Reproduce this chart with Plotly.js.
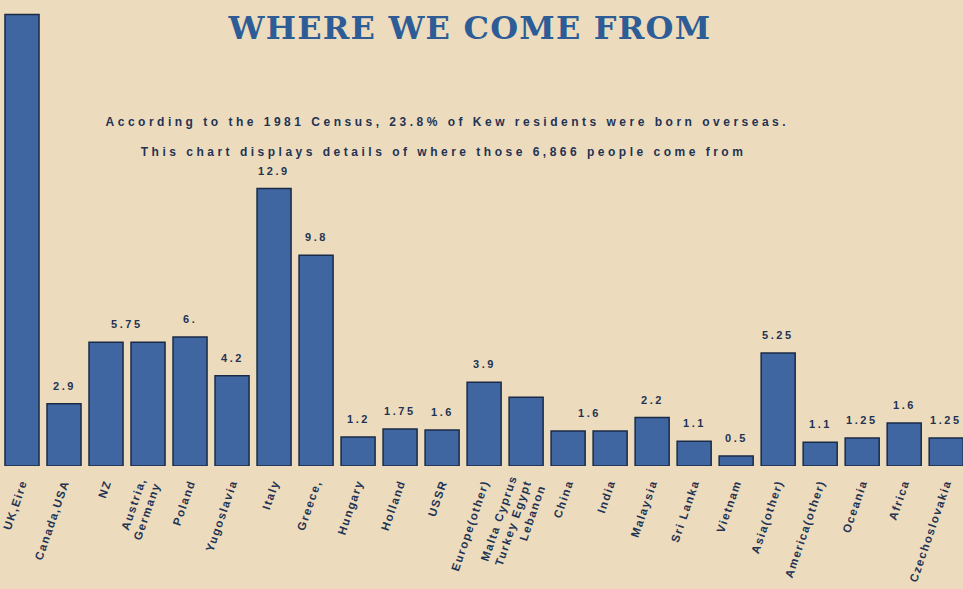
<!DOCTYPE html>
<html>
<head>
<meta charset="utf-8">
<script src="https://cdn.plot.ly/plotly-3.0.1.min.js"></script>
<style>
  html, body { margin: 0; padding: 0; background: #ecdcbd; }
  #chart { width: 963px; height: 589px; }
  .annotation-text { letter-spacing: 2.6px; }
  .annotation[data-index="0"] .annotation-text,
  .annotation[data-index="1"] .annotation-text { letter-spacing: 3.5px; }
  .xtick text { letter-spacing: 1.5px; }
  .gtitle { letter-spacing: 1.2px; }
</style>
</head>
<body>
<div id="chart"></div>
<script>
const categories = ["UK,Eire", "Canada,USA", "NZ", "Austria,<br>Germany", "Poland", "Yugoslavia", "Italy", "Greece,",
  "Hungary", "Holland", "USSR", "Europe(other)", "Malta Cyprus<br>Turkey Egypt<br>Lebanon", "China", "India",
  "Malaysia", "Sri Lanka", "Vietnam", "Asia(other)", "America(other)", "Oceania", "Africa", "Czechoslovakia"];
const values = [21.0, 2.9, 5.75, 5.75, 6.0, 4.2, 12.9, 9.8, 1.35, 1.72, 1.67, 3.9, 3.2, 1.63, 1.63,
  2.25, 1.15, 0.47, 5.25, 1.1, 1.3, 2.0, 1.3];
const valueLabels = ["21", "2.9", "5.75", "5.75", "6.", "4.2", "12.9", "9.8", "1.2", "1.75", "1.6", "3.9", "", "1.6", "1.6",
  "2.2", "1.1", "0.5", "5.25", "1.1", "1.25", "1.6", "1.25"];
const titleText = "WHERE WE COME FROM";
const subtitle1 = "According to the 1981 Census, 23.8% of Kew residents were born overseas.";
const subtitle2 = "This chart displays details of where those 6,866 people come from";

const ink = "#1f3354";
const annotations = [];
annotations.push({xref: "paper", yref: "paper", x: 0.464, y: 0.757, text: subtitle1, showarrow: false,
  font: {family: "Liberation Sans", size: 12, color: ink, weight: "bold"}});
annotations.push({xref: "paper", yref: "paper", x: 0.46, y: 0.693, text: subtitle2, showarrow: false,
  font: {family: "Liberation Sans", size: 12, color: ink, weight: "bold"}});
// merge consecutive identical labels (shared labels) into one centred label
let i = 0;
while (i < valueLabels.length) {
  let j = i;
  while (j + 1 < valueLabels.length && valueLabels[j + 1] === valueLabels[i] && valueLabels[i] !== "") j++;
  if (valueLabels[i] !== "") {
    let maxV = 0;
    for (let k = i; k <= j; k++) maxV = Math.max(maxV, values[k]);
    annotations.push({
      xref: "x", yref: "y", x: (i + j) / 2, y: maxV, text: valueLabels[i],
      showarrow: false, yanchor: "bottom", yshift: 10,
      font: {family: "Liberation Sans", size: 11, color: ink, weight: "bold"}
    });
  }
  i = j + 1;
}

const trace = {
  type: "bar", x: categories, y: values,
  marker: {color: "#3f66a0", line: {color: "#1a2a46", width: 1.5}},
  hoverinfo: "none", cliponaxis: false
};

const layout = {
  width: 963, height: 589,
  paper_bgcolor: "#ecdcbd", plot_bgcolor: "#ecdcbd",
  margin: {l: 1, r: 0, t: 0, b: 123},
  bargap: 0.19,
  showlegend: false,
  title: {text: titleText, x: 0.488, xanchor: "center", y: 0.953, yanchor: "middle",
    font: {family: "DejaVu Serif", size: 32, color: "#2d5c96", weight: "bold"}},
  xaxis: {type: "category", range: [-0.5, 22.4], tickangle: -71, showgrid: false, zeroline: false,
    showline: false, ticks: "", ticklen: 0, ticklabelstandoff: 7,
    tickfont: {family: "Liberation Sans", size: 11.5, color: ink, weight: "bold"}},
  yaxis: {range: [0, 21.67], visible: false, showgrid: false, zeroline: false},
  annotations: annotations
};

Plotly.newPlot("chart", [trace], layout, {displayModeBar: false, staticPlot: true});
</script>
</body>
</html>
